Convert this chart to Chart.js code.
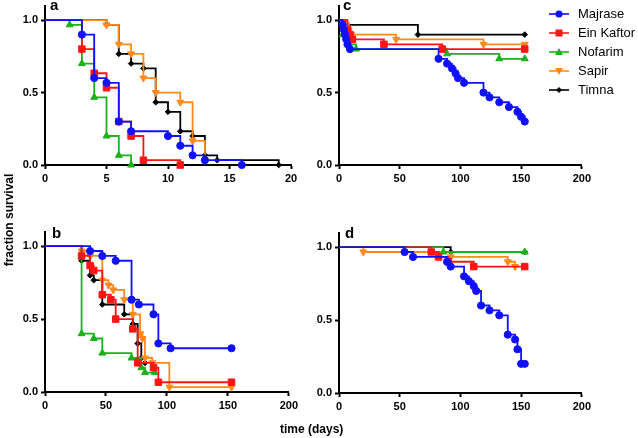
<!DOCTYPE html>
<html>
<head>
<meta charset="utf-8">
<script src="https://cdn.jsdelivr.net/npm/chart.js@4.4.1/dist/chart.umd.min.js"></script>
<style>
  html, body { margin: 0; padding: 0; background: #fff; }
  body { width: 638px; height: 438px; position: relative; overflow: hidden;
    font-family: 'Liberation Sans', Arial, sans-serif; color: #000; }
  canvas { position: absolute; }
  .tag { position: absolute; font-weight: bold; font-size: 15px; line-height: 1; }
  .axis-title { position: absolute; font-weight: bold; font-size: 12px; line-height: 1; white-space: nowrap; }
  #legend { position: absolute; left: 549px; top: 4px; }
  #legend .row { height: 19px; display: flex; align-items: center; font-size: 13px; }
  #legend svg { margin-right: 9px; }
</style>
</head>
<body>
<canvas id="pa"></canvas>
<canvas id="pb"></canvas>
<canvas id="pc"></canvas>
<canvas id="pd"></canvas>

<div class="tag" style="left:50px; top:-3px;">a</div>
<div class="tag" style="left:52px; top:225px;">b</div>
<div class="tag" style="left:343px; top:-3px;">c</div>
<div class="tag" style="left:345px; top:225px;">d</div>

<div class="axis-title" style="left:-41px; top:214px; width:100px; text-align:center; transform:rotate(-90deg);">fraction survival</div>
<div class="axis-title" style="left:280px; top:423px;">time (days)</div>

<div id="legend"></div>

<script>
// sites + ticks
const SITES = ['Majrase', 'Ein Kaftor', 'Nofarim', 'Sapir', 'Timna'];
const xTicksA = [0, 5, 10, 15, 20];
const xTicksDays = [0, 50, 100, 150, 200];
const yTicks = [0, 0.5, 1.0];

// panel a (days, survival) per site
const aDays = [
  [0, 3, 4, 5, 6, 7, 10, 11, 12, 13, 16],
  [0, 3, 4, 5, 6, 7, 8, 11],
  [0, 2, 3, 4, 5, 6, 7],
  [0, 5, 6, 7, 8, 9, 11, 12, 13],
  [0, 5, 6, 7, 8, 9, 10, 11, 12, 13, 14, 19]
];
const aSurv = [
  [1, 0.9, 0.6, 0.567, 0.3, 0.233, 0.2, 0.133, 0.067, 0.033, 0],
  [1, 0.8, 0.633, 0.533, 0.3, 0.2, 0.033, 0],
  [1, 0.967, 0.7, 0.467, 0.2, 0.067, 0],
  [1, 0.967, 0.833, 0.767, 0.6, 0.5, 0.433, 0.167, 0.033],
  [1, 0.967, 0.767, 0.7, 0.667, 0.433, 0.367, 0.233, 0.2, 0.067, 0.033, 0]
];

// panel b
const bDays = [
  [0, 37, 47, 58, 71, 77, 89, 93, 103, 153],
  [0, 30, 37, 40, 47, 54, 58, 72, 76, 89, 93, 153],
  [0, 30, 40, 47, 71, 79, 82, 90],
  [0, 30, 37, 47, 52, 56, 65, 72, 78, 80, 82, 88, 102, 153],
  [0, 30, 37, 40, 47, 65, 72, 76, 79, 82]
];
const bSurv = [
  [1, 0.967, 0.933, 0.9, 0.633, 0.6, 0.533, 0.333, 0.3, 0.3],
  [1, 0.933, 0.867, 0.833, 0.667, 0.633, 0.5, 0.433, 0.2, 0.167, 0.067, 0.067],
  [1, 0.4, 0.367, 0.267, 0.233, 0.167, 0.133, 0.133],
  [1, 0.967, 0.933, 0.767, 0.733, 0.7, 0.633, 0.533, 0.4, 0.367, 0.233, 0.2, 0.033, 0.033],
  [1, 0.9, 0.8, 0.767, 0.6, 0.533, 0.467, 0.333, 0.233, 0.2]
];

// panel c
const cDays = [
  [0, 3, 4, 5, 6, 7, 9, 82, 89, 93, 96, 98, 103, 119, 124, 132, 140, 147, 150, 153],
  [0, 7, 9, 11, 37, 85, 153],
  [0, 3, 8, 14, 89, 132, 153],
  [0, 6, 8, 10, 47, 119, 153],
  [0, 5, 65, 153]
];
const cSurv = [
  [1, 0.967, 0.933, 0.9, 0.867, 0.833, 0.8, 0.733, 0.7, 0.667, 0.633, 0.6, 0.567, 0.5, 0.467, 0.433, 0.4, 0.367, 0.333, 0.3],
  [1, 0.933, 0.9, 0.867, 0.833, 0.8, 0.8],
  [1, 0.9, 0.833, 0.8, 0.767, 0.733, 0.733],
  [1, 0.967, 0.933, 0.9, 0.867, 0.833, 0.833],
  [1, 0.967, 0.9, 0.9]
];

// panel d
const dDays = [
  [0, 54, 61, 89, 92, 103, 107, 111, 113, 117, 124, 132, 139, 145, 147, 150, 153],
  [0, 76, 82, 90, 111, 153],
  [0, 86, 153],
  [0, 20, 92, 139, 145],
  [0, 92, 153]
];
const dSurv = [
  [1, 0.967, 0.933, 0.9, 0.867, 0.8, 0.767, 0.733, 0.7, 0.6, 0.567, 0.533, 0.4, 0.367, 0.3, 0.2, 0.2],
  [1, 0.967, 0.933, 0.9, 0.867, 0.867],
  [1, 0.967, 0.967],
  [1, 0.967, 0.933, 0.9, 0.867],
  [1, 0.967, 0.967]
];

//look
const COLORS = ['#1010ff', '#ff1414', '#1cb01c', '#ff8a1c', '#000000'];
const SHAPES = ['circle', 'rect', 'triangle', 'triangle', 'rectRot'];
const ROTATE = [0, 0, 0, 180, 0];
const RADIUS = [3.6, 4.6, 4, 4, 2.8];
const FONT = "'Liberation Sans', Arial, sans-serif";
const Y_W = 40, X_H = 24, PAD_T = 6, PAD_R = 10;

function axis(extra) {
  return Object.assign({
    type: 'linear',
    grid: { drawOnChartArea: false, color: '#000', tickColor: '#000', tickLength: 4, tickWidth: 2 },
    border: { display: true, color: '#000', width: 2 },
    ticks: { color: '#000', font: { family: FONT, size: 11, weight: 'bold' }, padding: 3, maxRotation: 0 }
  }, extra);
}

function panel(id, box, xTicks, days, surv) {
  const canvas = document.getElementById(id);
  const w = box.r - box.l + Y_W + PAD_R;
  const h = box.b - box.t + X_H + PAD_T;
  canvas.width = w; canvas.height = h;
  canvas.style.width = w + 'px'; canvas.style.height = h + 'px';
  canvas.style.left = (box.l - Y_W) + 'px';
  canvas.style.top = (box.t - PAD_T) + 'px';

  new Chart(canvas, {
    type: 'scatter',
    data: {
      datasets: SITES.map((name, i) => ({
        label: name,
        data: days[i].map((d, j) => ({ x: d, y: surv[i][j] })),
        showLine: true,
        stepped: 'before',
        borderColor: COLORS[i],
        backgroundColor: COLORS[i],
        borderWidth: 1.8,
        pointStyle: SHAPES[i],
        pointRotation: ROTATE[i],
        pointRadius: ctx => ctx.dataIndex === 0 ? 0 : RADIUS[i],
        pointBorderWidth: 1,
        pointBorderColor: COLORS[i],
        clip: false
      }))
    },
    options: {
      responsive: false,
      animation: false,
      events: [],
      layout: { padding: { top: PAD_T, right: PAD_R, left: 0, bottom: 0 } },
      plugins: { legend: { display: false }, tooltip: { enabled: false } },
      scales: {
        x: axis({
          min: 0, max: xTicks[xTicks.length - 1],
          afterBuildTicks: s => { s.ticks = xTicks.map(v => ({ value: v })); },
          afterFit: s => { s.height = X_H; }
        }),
        y: axis({
          min: 0, max: 1.1,
          afterBuildTicks: s => { s.ticks = yTicks.map(v => ({ value: v })); },
          afterFit: s => { s.width = Y_W; },
          ticks: { color: '#000', font: { family: FONT, size: 11, weight: 'bold' }, padding: 3,
            callback: v => Number(v).toFixed(1) }
        })
      }
    }
  });
}

panel('pa', { l: 45, r: 291, t: 2, b: 165 }, xTicksA, aDays, aSurv);
panel('pb', { l: 45, r: 291, t: 228, b: 392 }, xTicksDays, bDays, bSurv);
panel('pc', { l: 339, r: 584, t: 2, b: 165 }, xTicksDays, cDays, cSurv);
panel('pd', { l: 339, r: 584, t: 229, b: 393 }, xTicksDays, dDays, dSurv);

// legend
function markerSvg(i) {
  const c = COLORS[i];
  let m = '';
  if (SHAPES[i] === 'circle') m = `<circle cx="10" cy="6" r="3.6" fill="${c}"/>`;
  else if (SHAPES[i] === 'rect') m = `<rect x="6.5" y="2.5" width="7" height="7" fill="${c}"/>`;
  else if (ROTATE[i] === 180) m = `<polygon points="6,3 14,3 10,10" fill="${c}"/>`;
  else if (SHAPES[i] === 'triangle') m = `<polygon points="10,2 14,9 6,9" fill="${c}"/>`;
  else m = `<polygon points="10,3 13,6 10,9 7,6" fill="${c}"/>`;
  return `<svg width="20" height="12" viewBox="0 0 20 12"><line x1="0" y1="6" x2="20" y2="6" stroke="${c}" stroke-width="1.6"/>${m}</svg>`;
}
document.getElementById('legend').innerHTML = SITES.map((s, i) =>
  `<div class="row">${markerSvg(i)}<span>${s}</span></div>`).join('');
</script>
</body>
</html>
